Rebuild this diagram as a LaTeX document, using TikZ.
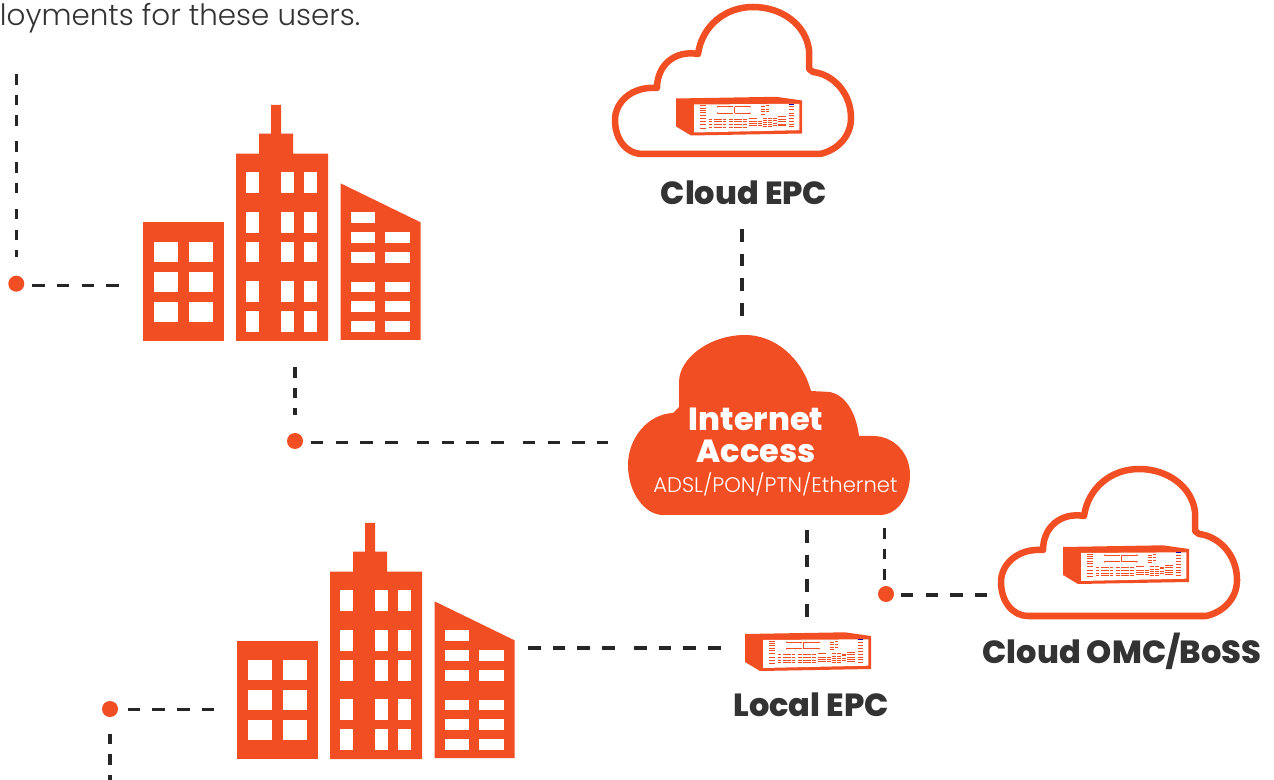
\documentclass[tikz,border=0pt]{standalone}
\usepackage{fontspec}
\setmainfont{Poppins}
\newfontfamily\heavyfont{Poppins ExtraBold}
\newfontfamily\lightfont{Poppins Light}
\definecolor{epcorange}{HTML}{F24E24}
\definecolor{epcdark}{HTML}{333333}
\tikzset{
  % dashes come in groups, as in the reference
  conn/.style = {dash pattern = on 3.56pt off 3.47pt on 3.56pt off 3.47pt on 3.56pt off 3.47pt on 3.56pt off 5.5pt,
    line width = 1pt, color = black!85},
  connshort/.style = {dash pattern = on 2.99pt off 2.9pt on 2.99pt off 2.9pt on 2.99pt off 4.4pt,
    line width = 1pt, color = black!85},
  dot/.style = {circle, fill = epcorange, minimum size = 4.55pt, inner sep = 0pt},
  title/.style = {font = \heavyfont\fontsize{9.1}{11}\selectfont, text = epcdark, inner sep = 0pt},
  % cloud outline, origin at the upper left of the reference cloud
  cloudline/.pic = {
    \draw [epcorange, line width = 1.85pt, line join = round]
      (642, 154) -- (820, 154)
      .. controls (838, 150) and (851, 136) .. (851, 118)
      .. controls (851, 92) and (832, 74) .. (813, 72)
      -- (809, 69) -- (809, 50)
      .. controls (806, 25) and (782, 7) .. (753, 7)
      .. controls (725, 7) and (702, 26) .. (698, 54)
      .. controls (675, 50) and (657, 65) .. (657, 88)
      .. controls (632, 86) and (615, 102) .. (615, 120)
      .. controls (615, 140) and (627, 154) .. (642, 154) -- cycle;
  },
  % small rack unit
  epcbox/.pic = {
    \fill [epcorange] (0, 0) -- (100, -1.7) -- (126, 2) -- (126, 35) -- (15, 37) -- (0, 28) -- cycle;
    \fill [white] (18, 6) -- (123.3, 5.3) -- (123.3, 31.7) -- (18, 34) -- cycle;
    \begin{scope}[epcorange, line width = 0.28pt]
      \foreach \y in {7.3, 9.7, 11.7, 14, 16.7, 19.7, 23, 26.3, 29.7}
        \draw (24.3, \y) -- (30, \y);
      \foreach \y in {8.3, 14.7} {
        \draw (41.7, \y) -- (57, \y) (59, \y) -- (74, \y);
        \fill (41.7, \y) circle (0.25pt) (74, \y) circle (0.25pt);
      }
      \draw (58, 8.3) -- (58, 14.7);
      \foreach \y in {8.3, 10.7, 13.3, 15.7}
        \draw (84.7, \y) -- (89, \y);
      \foreach \y in {7.5, 10.7, 13.3}
        \draw (90, \y) -- (92.7, \y);
      \foreach \y in {8.3, 11.3, 14.7, 17.3, 20, 23, 25.7, 28}
        \draw (112.7, \y) -- (117.7, \y);
      \draw [blue!70!black] (112.7, 5.6) -- (117.7, 5.6);
      \foreach \a/\b in {32.7/35.7, 37.7/45.7, 46.7/50, 52.7/56.7, 57.7/65.7, 66.7/70.7}
        \foreach \y in {20.7, 23.3, 26, 28.7}
          \draw (\a, \y) -- (\b, \y);
      \foreach \y in {19.7, 23, 25, 27}
        \draw (72.7, \y) -- (80.7, \y);
      \foreach \y in {23, 25, 27.3}
        \draw (81.7, \y) -- (85.7, \y);
      \foreach \a/\b in {86.7/90.7, 91.7/95.7}
        \foreach \y in {19.7, 22, 24, 26, 28}
          \draw (\a, \y) -- (\b, \y);
      \foreach \y in {20, 21.7, 24.7, 26.7}
        \draw (96.7, \y) -- (100.7, \y);
      \foreach \a/\b in {101.7/105.7, 106/109.7}
        \foreach \y in {18.3, 20.7, 23.3, 25.7, 27.3}
          \draw (\a, \y) -- (\b, \y);
    \end{scope}
  },
  % group of three buildings
  towers/.pic = {
    \fill [epcorange] (0, 117.5) rectangle (81, 236);
    \fill [epcorange] (93, 236) -- (93, 48.7) -- (116, 48.7) -- (116, 28.7) -- (128, 28.7) -- (128, 0)
      -- (138, 0) -- (138, 28.7) -- (150, 28.7) -- (150, 48.7) -- (185, 48.7) -- (185, 236) -- cycle;
    \fill [epcorange] (197.5, 78.3) -- (277.5, 117.3) -- (277.5, 235) -- (197.5, 235) -- cycle;
    \foreach \x in {11, 46}
      \foreach \y in {137, 167, 197}
        \fill [white] (\x, \y) rectangle ++(23.7, 20.2);
    \foreach \x in {103.3, 138, 161.3}
      \foreach \y in {67.3, 107, 136.7, 176, 206}
        \fill [white] (\x, \y) rectangle ++(12.8, 20.8);
    \fill [white] (207.5, 107.3) rectangle ++(24.7, 10.7);
    \foreach \y in {127.3, 147, 176.7, 196.3, 216}
      \foreach \x in {207.5, 242}
        \fill [white] (\x, \y) rectangle ++(24.5, 10.7);
  },
}
\begin{document}
\begin{tikzpicture}[x = 0.01cm, y = -0.01cm]
  \useasboundingbox (0, 0) rectangle (1274, 780);

  \node [anchor = base east, inner sep = 0pt, text = epcdark, font = \lightfont\fontsize{8.35}{10}\selectfont] (intro) at (361, 26) {loyments for these users.};

  % buildings
  \pic at (143, 105) {towers};
  \pic at (237, 523) {towers};

  % clouds
  \pic at (0, 0) {cloudline};
  \pic at (386, 462) {cloudline};
  \fill [epcorange] (663, 515) -- (880, 515)
    .. controls (897, 515) and (910, 497) .. (910, 475)
    .. controls (910, 452) and (893, 436) .. (873, 436) -- (859, 436)
    .. controls (856, 412) and (845, 395) .. (830, 392) -- (811, 391)
    .. controls (802, 358) and (775, 335) .. (745, 335)
    .. controls (710, 335) and (679, 358) .. (679, 382) -- (679, 407) -- (673, 413)
    .. controls (648, 414) and (628, 438) .. (628, 465)
    .. controls (628, 493) and (645, 515) .. (663, 515) -- cycle;

  % rack units
  \pic at (676, 98.5) {epcbox};
  \pic at (1063, 547) {epcbox};
  \pic at (745, 634) {epcbox};

  % labels
  \node [title] (cloudepc) at (744, 193) {Cloud EPC};
  \node [title] (localepc) at (811, 705) {Local EPC};
  \node [title] (cloudomc) at (1122, 651) {Cloud OMC/BoSS};
  \node [title, text = white] (inetA) at (756, 419) {Internet};
  \node [title, text = white] (inetB) at (756, 451) {Access};
  \node [text = white, inner sep = 0pt, font = \lightfont\fontsize{6}{7}\selectfont] (inetC) at (775.5, 484) {ADSL/PON/PTN/Ethernet};

  % dots
  \node [dot] (dotA) at (16.3, 283.7) {};
  \node [dot] (dotB) at (295, 441) {};
  \node [dot] (dotC) at (886, 594) {};
  \node [dot] (dotD) at (110, 709) {};

  % connector ends
  \coordinate (topfree) at (16.3, 74);
  \coordinate (botfree) at (110, 780);
  \coordinate (towersAw) at (119, 285.3);
  \coordinate (towersAs) at (295, 367);
  \coordinate (towersBw) at (215, 709.5);
  \coordinate (towersBe) at (528, 648);
  \coordinate (epcS) at (742, 229);
  \coordinate (inetN) at (742, 318);
  \coordinate (inetW) at (608, 442.3);
  \coordinate (inetS1) at (807, 530);
  \coordinate (inetS2) at (884.5, 528);
  \coordinate (localN) at (807, 620);
  \coordinate (localW) at (727, 648);
  \coordinate (omcW) at (988, 595);

  % dashed connectors
  \draw [connshort, shorten > = 5pt] (topfree) -- (dotA);
  \draw [conn, shorten <= 4.5pt] (dotA |- towersAw) -- (towersAw);
  \draw [connshort, shorten > = 5pt] (towersAs) -- (dotB);
  \draw [conn, shorten <= 4.5pt] (dotB |- inetW) -- (inetW);
  \draw [conn] (epcS) -- (inetN);
  \draw [conn] (inetS1) -- (localN);
  \draw [connshort, shorten > = 4pt] (inetS2) -- (inetS2 |- dotC);
  \draw [conn, shorten <= 4.2pt] (dotC |- omcW) -- (omcW);
  \draw [conn] (towersBe) -- (localW);
  \draw [conn, shorten <= 5pt] (dotD |- towersBw) -- (towersBw);
  \draw [connshort, shorten <= 4.5pt] (dotD) -- (botfree);
\end{tikzpicture}
\end{document}
